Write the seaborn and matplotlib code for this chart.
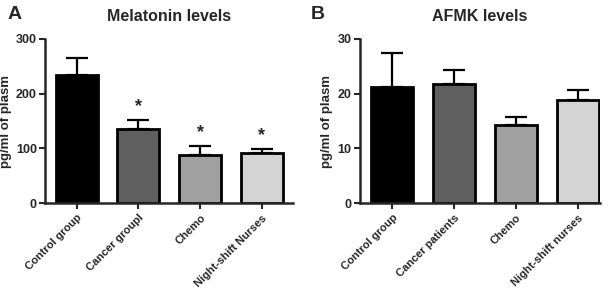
import matplotlib
matplotlib.use("Agg")
import matplotlib.pyplot as plt
import seaborn as sns
import pandas as pd
import numpy as np

# Data
mel_categories = ["Control group", "Cancer groupl", "Chemo", "Night-shift Nurses"]
mel_means = [234, 135, 88, 92]
mel_err = [31, 17, 16, 7]
mel_sig = [False, True, True, True]

afmk_categories = ["Control group", "Cancer patients", "Chemo", "Night-shift nurses"]
afmk_means = [21.2, 21.8, 14.3, 18.9]
afmk_err = [6.3, 2.6, 1.5, 1.8]

colors = ["#000000", "#5f5f5f", "#a0a0a0", "#d4d4d4"]

sns.set_style("white")
plt.rcParams["font.family"] = ["Liberation Sans", "DejaVu Sans"]
plt.rcParams["font.weight"] = "bold"

fig = plt.figure(figsize=(6.1, 2.93), dpi=100)
axA = fig.add_axes([0.074, 0.307, 0.406, 0.56])
axB = fig.add_axes([0.590, 0.307, 0.394, 0.56])


def draw(ax, cats, means, errs, ymax, yticks, title, sig=None, xlim=(-0.51, 3.5)):
    df = pd.DataFrame({"cat": cats, "val": means})
    sns.barplot(data=df, x="cat", y="val", hue="cat", palette=colors, order=cats,
                hue_order=cats, legend=False, width=0.68, edgecolor="black",
                linewidth=2, errorbar=None, ax=ax, dodge=False)
    x = np.arange(len(cats))
    ax.errorbar(x, means, yerr=[np.zeros(len(errs)), errs], fmt="none",
                ecolor="black", elinewidth=1.6, capsize=8, capthick=1.6, zorder=1)
    for b in ax.patches:
        b.set_zorder(2)
    if sig is not None:
        for xi, m, e, s in zip(x, means, errs, sig):
            if s:
                ax.text(xi, m + e + ymax * 0.03, "*", ha="center", va="bottom",
                        fontsize=13, fontweight="bold")
    ax.set_ylim(0, ymax)
    ax.set_xlim(*xlim)
    ax.set_yticks(yticks)
    ax.set_xticks(x)
    ax.set_xticklabels(cats, rotation=45, ha="right", rotation_mode="anchor",
                       fontsize=8, fontweight="bold")
    ax.tick_params(axis="y", labelsize=9, length=4, width=1.5, direction="out", left=True, pad=2)
    ax.tick_params(axis="x", length=4, width=1.5, direction="out", bottom=True, pad=3)
    for lab in ax.get_yticklabels():
        lab.set_fontweight("bold")
    sns.despine(ax=ax)
    ax.spines["left"].set_linewidth(1.8)
    ax.spines["bottom"].set_linewidth(1.8)
    ax.set_xlabel("")
    ax.set_ylabel("pg/ml of plasm", fontsize=9.5, fontweight="bold", labelpad=3)
    ax.set_title(title, fontsize=11.5, fontweight="bold", pad=13)


draw(axA, mel_categories, mel_means, mel_err, 300, [0, 100, 200, 300], "Melatonin levels", sig=mel_sig)
draw(axB, afmk_categories, afmk_means, afmk_err, 30, [0, 10, 20, 30], "AFMK levels", xlim=(-0.52, 3.36))

fig.text(0.012, 0.95, "A", fontsize=14, fontweight="bold", va="center")
fig.text(0.51, 0.95, "B", fontsize=14, fontweight="bold", va="center")

fig.savefig("out.png", dpi=100)
